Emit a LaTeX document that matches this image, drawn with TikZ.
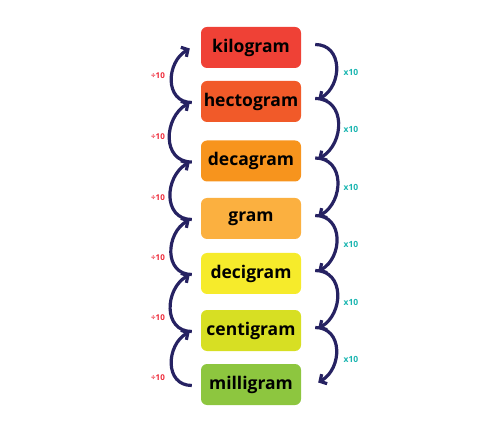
\documentclass[tikz,border=0pt]{standalone}
\usepackage{fontspec}
\setmainfont{Open Sans}
\usetikzlibrary{arrows.meta}

\definecolor{kgred}{HTML}{EF4136}
\definecolor{hgorange}{HTML}{F15A29}
\definecolor{dagorange}{HTML}{F7941D}
\definecolor{gorange}{HTML}{FBB040}
\definecolor{dgyellow}{HTML}{F6EB2B}
\definecolor{cglime}{HTML}{D7DF23}
\definecolor{mggreen}{HTML}{8DC63F}
\definecolor{loopblue}{HTML}{262262}
\definecolor{divred}{HTML}{EE2A3A}
\definecolor{multeal}{HTML}{19B5B0}

\tikzset{
  unitbox/.style={rounded corners=6pt, minimum width=100pt, minimum height=41pt,
    inner sep=0pt, text=black, font=\bfseries\fontsize{17.5}{17.5}\selectfont},
  loopline/.style={draw=loopblue, line width=3.2pt,
    -{Straight Barb[length=5pt,width=11pt]}},
  divlabel/.style={text=divred, font=\bfseries\fontsize{8}{8}\selectfont},
  mullabel/.style={text=multeal, font=\bfseries\fontsize{8.5}{8.5}\selectfont},
}

\begin{document}
\begin{tikzpicture}
  \useasboundingbox (0pt,0pt) rectangle (500pt,-435pt);

  %% units
  \node[unitbox, fill=kgred]     (kg)  at (251pt, -47.5pt) {kilogram};
  \node[unitbox, fill=hgorange]  (hg)  at (251pt,-101.5pt) {hectogram};
  \node[unitbox, fill=dagorange] (dag) at (251pt,-161pt)   {decagram};
  \node[unitbox, fill=gorange]   (g)   at (251pt,-218.5pt) {gram};
  \node[unitbox, fill=dgyellow]  (dg)  at (251pt,-273.5pt) {decigram};
  \node[unitbox, fill=cglime]    (cg)  at (251pt,-330.5pt) {centigram};
  \node[unitbox, fill=mggreen]   (mg)  at (251pt,-384.5pt) {milligram};

  %% going down: x10
  \draw[loopline] ([shift={(14pt,3pt)}]kg.east)  to[out=0,in=30,looseness=1.3] ([shift={(17pt,2pt)}]hg.east);
  \draw[loopline] ([shift={(14pt,3pt)}]hg.east)  to[out=0,in=30,looseness=1.3] ([shift={(17pt,2pt)}]dag.east);
  \draw[loopline] ([shift={(14pt,3pt)}]dag.east) to[out=0,in=30,looseness=1.3] ([shift={(17pt,2pt)}]g.east);
  \draw[loopline] ([shift={(14pt,3pt)}]g.east)   to[out=0,in=30,looseness=1.3] ([shift={(17pt,2pt)}]dg.east);
  \draw[loopline] ([shift={(14pt,3pt)}]dg.east)  to[out=0,in=30,looseness=1.3] ([shift={(17pt,2pt)}]cg.east);
  \draw[loopline] ([shift={(14pt,3pt)}]cg.east)  to[out=0,in=30,looseness=1.3] ([shift={(17pt,2pt)}]mg.east);

  %% going up: ÷10
  \draw[loopline] ([shift={(-9pt,-1pt)}]hg.west)  to[out=180,in=210,looseness=1.3] ([shift={(-11pt,-1pt)}]kg.west);
  \draw[loopline] ([shift={(-9pt,-1pt)}]dag.west) to[out=180,in=210,looseness=1.3] ([shift={(-11pt,-1pt)}]hg.west);
  \draw[loopline] ([shift={(-9pt,-1pt)}]g.west)   to[out=180,in=210,looseness=1.3] ([shift={(-11pt,-1pt)}]dag.west);
  \draw[loopline] ([shift={(-9pt,-1pt)}]dg.west)  to[out=180,in=210,looseness=1.3] ([shift={(-11pt,-1pt)}]g.west);
  \draw[loopline] ([shift={(-9pt,-1pt)}]cg.west)  to[out=180,in=210,looseness=1.3] ([shift={(-11pt,-1pt)}]dg.west);
  \draw[loopline] ([shift={(-9pt,-1pt)}]mg.west)  to[out=180,in=210,looseness=1.3] ([shift={(-11pt,-1pt)}]cg.west);

  %% labels
  \node[mullabel] (m1) at (351pt, -72pt)  {x10};
  \node[mullabel] (m2) at (351pt,-129pt)  {x10};
  \node[mullabel] (m3) at (351pt,-187pt)  {x10};
  \node[mullabel] (m4) at (351pt,-244pt)  {x10};
  \node[mullabel] (m5) at (351pt,-302pt)  {x10};
  \node[mullabel] (m6) at (351pt,-359pt)  {x10};

  \node[divlabel] (d1) at (158pt, -76pt)  {÷10};
  \node[divlabel] (d2) at (158pt,-137pt)  {÷10};
  \node[divlabel] (d3) at (158pt,-198pt)  {÷10};
  \node[divlabel] (d4) at (158pt,-258pt)  {÷10};
  \node[divlabel] (d5) at (158pt,-318pt)  {÷10};
  \node[divlabel] (d6) at (158pt,-378pt)  {÷10};
\end{tikzpicture}
\end{document}
